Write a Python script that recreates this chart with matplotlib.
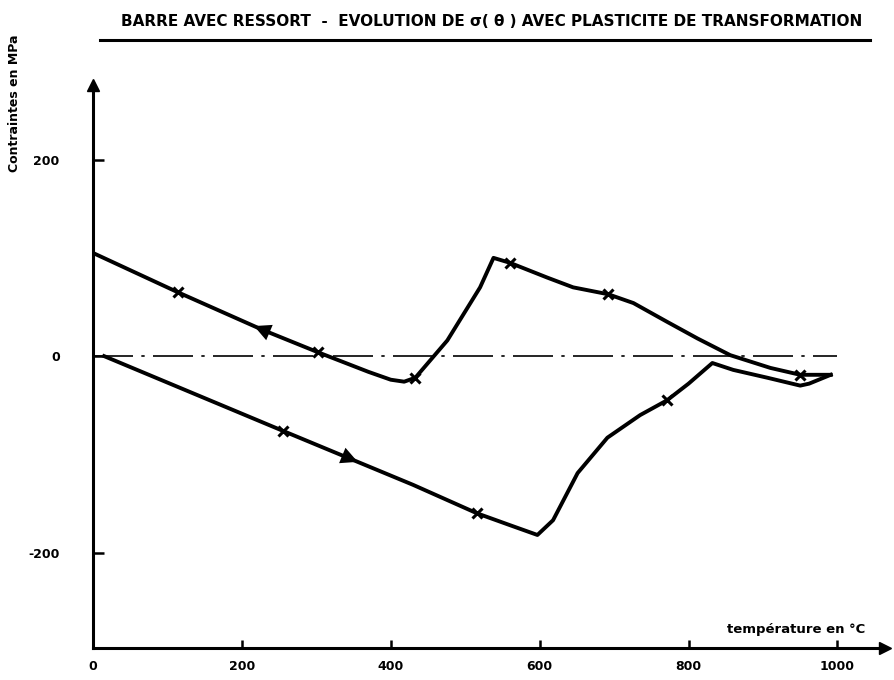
import numpy as np
import matplotlib
matplotlib.use("Agg")
import matplotlib.pyplot as plt
from matplotlib.lines import Line2D

plt.rcParams["axes.unicode_minus"] = False

# heating branch (arrow to the right): temperature in degC, stress in MPa
heat_T = [15, 255, 430, 516, 560, 597, 618, 651, 691, 735, 771, 800, 832,
          860, 906, 950, 962, 991]
heat_sig = [0, -76, -131, -160, -172, -182, -167, -119, -83, -60, -45,
            -28, -7, -14, -22, -30, -28, -19]

# cooling branch (arrow to the left)
cool_T = [0, 114, 227, 302, 370, 400, 418, 433, 476, 520, 538, 560, 610, 645,
          692, 726, 771, 812, 856, 910, 950, 991]
cool_sig = [105, 65, 27, 4, -16, -24, -26, -22, 16, 70, 100, 95, 80, 70,
            63, 54, 35, 18, 1, -12, -19, -19]

heat_marks = [255, 516, 771]
cool_marks = [114, 302, 433, 560, 692, 950]
heat_arrow = 345
cool_arrow = 227

x_ticks = [0, 200, 400, 600, 800, 1000]
y_ticks = [-200, 0, 200]

fig = plt.figure(figsize=(8.95, 6.8), dpi=100)
ax = fig.add_axes([0.1039, 0.0471, 0.885, 0.828])
ax.set_xlim(0, 1064)
ax.set_ylim(-297, 276)

ink = "black"
for s in ("top", "right"):
    ax.spines[s].set_visible(False)
for s in ("left", "bottom"):
    ax.spines[s].set_linewidth(2.2)
    ax.spines[s].set_color(ink)

# axis arrow heads
ax.plot(1, 0, ">", color=ink, ms=9, transform=ax.transAxes, clip_on=False)
ax.plot(0, 1, "^", color=ink, ms=9, transform=ax.transAxes, clip_on=False)

ax.set_xticks(x_ticks)
ax.set_yticks(y_ticks)
ax.tick_params(axis="x", direction="in", length=6, width=1.8, pad=9,
               labelsize=9)
ax.tick_params(axis="y", direction="in", length=8, width=1.8, pad=24,
               labelsize=9)
for lab in ax.get_xticklabels() + ax.get_yticklabels():
    lab.set_fontweight("bold")

# zero reference line
ax.plot([0, 1000], [0, 0], color=ink, lw=1.2, dashes=(24, 5, 2, 5))

ax.plot(heat_T, heat_sig, color=ink, lw=2.8, solid_joinstyle="round")
ax.plot(cool_T, cool_sig, color=ink, lw=2.8, solid_joinstyle="round")

ax.plot(heat_marks, np.interp(heat_marks, heat_T, heat_sig), "x",
        color=ink, ms=7, mew=2.2)
ax.plot(cool_marks, np.interp(cool_marks, cool_T, cool_sig), "x",
        color=ink, ms=7, mew=2.2)

# direction arrows along each branch
arrow_style = dict(arrowstyle="-|>", color=ink, lw=0, mutation_scale=30)
ax.annotate("", xy=(heat_arrow + 14, np.interp(heat_arrow + 14, heat_T, heat_sig)),
            xytext=(heat_arrow - 14, np.interp(heat_arrow - 14, heat_T, heat_sig)),
            arrowprops=arrow_style)
ax.annotate("", xy=(cool_arrow - 14, np.interp(cool_arrow - 14, cool_T, cool_sig)),
            xytext=(cool_arrow + 14, np.interp(cool_arrow + 14, cool_T, cool_sig)),
            arrowprops=arrow_style)

fig.text(0.549, 0.968,
         "BARRE AVEC RESSORT  -  EVOLUTION DE σ( θ ) AVEC PLASTICITE DE TRANSFORMATION",
         ha="center", va="center", fontsize=11, fontweight="bold", color=ink)
fig.add_artist(Line2D([100 / 895, 870 / 895], [1 - 40 / 680, 1 - 40 / 680],
                      transform=fig.transFigure, color=ink, lw=2.2))

fig.text(15 / 895, 1 - 103 / 680, "Contraintes en MPa", rotation=90,
         ha="center", va="center", fontsize=9, fontweight="bold", color=ink)
fig.text(796 / 895, 1 - 630 / 680, "température en °C", ha="center",
         va="center", fontsize=9.5, fontweight="bold", color=ink)

fig.savefig("out.png", dpi=100)
